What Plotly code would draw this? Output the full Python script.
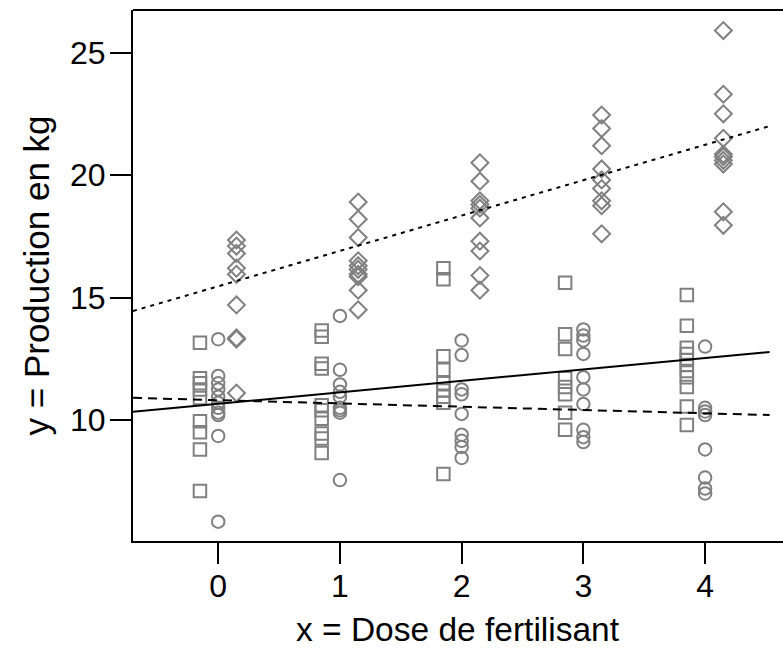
import plotly.graph_objects as go

doses = [0, 1, 2, 3, 4]

# Group A (squares)
sq_vals = [
    [13.15, 11.7, 11.5, 11.25, 10.9, 9.95, 9.5, 8.8, 7.1],
    [13.65, 13.4, 12.3, 12.1, 10.6, 10.4, 10.05, 9.45, 9.25, 8.65],
    [16.2, 15.75, 12.6, 12.05, 11.5, 11.2, 10.95, 10.7, 7.8],
    [15.6, 13.5, 12.9, 11.7, 11.35, 11.05, 10.3, 9.6],
    [15.1, 13.85, 12.95, 12.7, 12.45, 12.25, 12.0, 11.75, 11.35, 10.55, 9.8],
]
# Group B (circles)
ci_vals = [
    [13.3, 11.8, 11.5, 11.25, 10.95, 10.7, 10.5, 10.3, 10.2, 9.35, 5.85],
    [14.25, 12.05, 11.45, 11.15, 10.95, 10.5, 10.4, 10.3, 7.55],
    [13.25, 12.65, 11.25, 11.05, 10.25, 9.4, 9.15, 8.9, 8.45],
    [13.7, 13.45, 13.25, 12.7, 11.75, 11.25, 10.65, 9.6, 9.3, 9.1],
    [13.0, 10.5, 10.35, 10.2, 8.8, 7.65, 7.2, 7.0],
]
# Group C (diamonds)
di_vals = [
    [17.35, 17.1, 16.8, 16.2, 15.95, 14.7, 13.35, 13.3, 11.1],
    [18.9, 18.2, 17.45, 16.5, 16.3, 16.15, 15.95, 15.85, 15.3, 14.5],
    [20.5, 19.75, 18.95, 18.8, 18.65, 18.25, 17.3, 16.9, 15.9, 15.3],
    [22.45, 21.9, 21.2, 20.25, 19.8, 19.45, 18.95, 18.75, 17.6],
    [25.9, 23.3, 22.5, 21.5, 20.85, 20.75, 20.6, 20.45, 18.5, 17.95],
]

# Fitted lines: intercept, slope
line_solid = (10.66, 0.468)
line_dashed = (10.81, -0.134)
line_dotted = (15.46, 1.444)
line_x_span = [-0.70, 4.53]

x_ticks = [0, 1, 2, 3, 4]
y_ticks = [10, 15, 20, 25]
x_title = "x = Dose de fertilisant"
y_title = "y = Production en kg"

X_RANGE = [-0.70, 4.64]
Y_RANGE = [5.06, 26.74]
GRAY = "#808080"
FONT = "Liberation Sans, Arial, sans-serif"

fig = go.Figure()

def add_group(vals, offset, symbol, size):
    xs, ys = [], []
    for d, vs in zip(doses, vals):
        for v in vs:
            xs.append(d + offset)
            ys.append(v)
    fig.add_trace(go.Scatter(
        x=xs, y=ys, mode="markers",
        marker=dict(symbol=symbol, size=size, color=GRAY,
                    line=dict(color=GRAY, width=2)),
        showlegend=False, hoverinfo="skip"))

add_group(sq_vals, -0.15, "square-open", 12.5)
add_group(ci_vals, 0.0, "circle-open", 12.5)
add_group(di_vals, 0.15, "diamond-open", 13)

def add_line(coef, dash):
    a, b = coef
    xs = list(line_x_span)
    ys = [a + b * x for x in xs]
    fig.add_trace(go.Scatter(x=xs, y=ys, mode="lines",
                             line=dict(color="black", width=2, dash=dash),
                             showlegend=False, hoverinfo="skip"))

add_line(line_solid, "solid")
add_line(line_dashed, "9px,6px")
add_line(line_dotted, "4px,5px")

fig.add_shape(type="line", xref="paper", yref="paper", x0=0, x1=1, y0=1, y1=1,
              line=dict(color="black", width=2))

fig.update_layout(
    width=783, height=650,
    margin=dict(l=133, r=0, t=10, b=109),
    paper_bgcolor="white", plot_bgcolor="white",
    font=dict(family=FONT, size=32, color="black"),
    xaxis=dict(range=X_RANGE, tickvals=x_ticks, ticktext=[str(t) for t in x_ticks],
               ticks="outside", ticklen=21, tickwidth=2, tickcolor="black",
               showline=True, linewidth=2, linecolor="black", mirror=False,
               showgrid=False, zeroline=False, ticklabelstandoff=-5,
               tickfont=dict(size=32)),
    yaxis=dict(range=Y_RANGE, tickvals=y_ticks, ticktext=[str(t) for t in y_ticks],
               ticks="outside", ticklen=21, tickwidth=2, tickcolor="black",
               showline=True, linewidth=2, linecolor="black", mirror=False,
               showgrid=False, zeroline=False, ticklabelstandoff=-2,
               tickfont=dict(size=32)),
    annotations=[
        dict(text=x_title, xref="paper", yref="paper", x=0.5, y=0,
             xanchor="center", yanchor="middle", yshift=-88, showarrow=False,
             font=dict(size=33.5)),
        dict(text=y_title, xref="paper", yref="paper", x=0, y=0.5,
             xanchor="center", yanchor="middle", xshift=-97, textangle=-90,
             showarrow=False, font=dict(size=35)),
    ],
)

fig.write_html("out.html")
